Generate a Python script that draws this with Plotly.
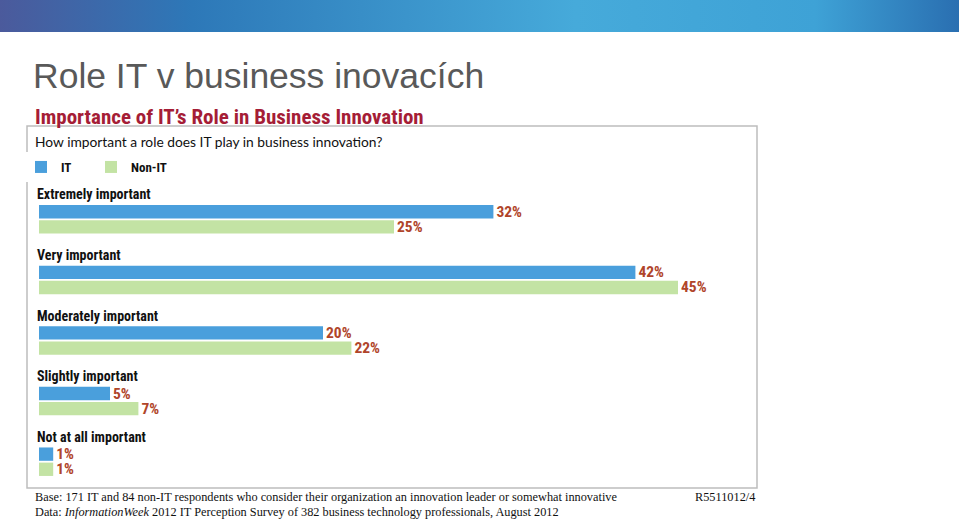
import base64
import plotly.graph_objects as go

categories = ["Extremely important", "Very important", "Moderately important",
              "Slightly important", "Not at all important"]
it_values = [32, 42, 20, 5, 1]
nonit_values = [25, 45, 22, 7, 1]
series_names = ["IT", "Non-IT"]

W_FIG, H_FIG = 959, 520
ML, MR, MT, MB = 39, 210, 189, 28
PW, PH = W_FIG - ML - MR, H_FIG - MT - MB


def px(x):
    return (x - ML) / PW


def py(y):
    return 1 - (y - MT) / PH


COND = "Roboto Condensed, Liberation Sans Narrow, Roboto, sans-serif"
LABEL_COLOR = "#b0452a"
IT_COLOR = "#4a9fdc"
NONIT_COLOR = "#c3e3a4"

fig = go.Figure()
for name, vals, col, lg in [(series_names[0], it_values, IT_COLOR, "legend"),
                            (series_names[1], nonit_values, NONIT_COLOR, "legend2")]:
    fig.add_trace(go.Bar(
        y=categories, x=vals, orientation="h", name=name, legend=lg,
        marker=dict(color=col, line=dict(width=0)),
        text=[f"{v}%" for v in vals], textposition="outside", constraintext="none",
        textfont=dict(family=COND, size=15.5, color=LABEL_COLOR, weight="bold"),
        cliponaxis=False,
    ))

annotations = []
for c in categories:
    annotations.append(dict(
        x=0, xref="paper", y=c, yref="y", yshift=25, xshift=-4,
        text=c, showarrow=False, xanchor="left", yanchor="middle",
        font=dict(family=COND, size=14, color="#111111", weight="bold"),
    ))

annotations += [
    dict(x=px(31), y=py(76), xref="paper", yref="paper", xanchor="left", yanchor="middle",
         text="Role IT v business inovacích", showarrow=False,
         font=dict(family="Liberation Sans, Arial, sans-serif", size=35.5, color="#595959")),
    dict(x=px(33), y=py(117), xref="paper", yref="paper", xanchor="left", yanchor="middle",
         text="Importance of IT’s Role in Business Innovation", showarrow=False,
         font=dict(family=COND, size=21, color="#a51d36", weight="bold")),
    dict(x=px(33), y=py(141), xref="paper", yref="paper", xanchor="left", yanchor="middle",
         text="How important a role does IT play in business innovation?", showarrow=False,
         font=dict(family="Lato, sans-serif", size=13.8, color="#111111")),
    dict(x=px(33), y=py(497), xref="paper", yref="paper", xanchor="left", yanchor="middle",
         text="Base: 171 IT and 84 non-IT respondents who consider their organization an innovation leader or somewhat innovative",
         showarrow=False,
         font=dict(family="Liberation Serif, serif", size=12.3, color="#111111")),
    dict(x=px(33), y=py(512), xref="paper", yref="paper", xanchor="left", yanchor="middle",
         text="Data: <i>InformationWeek</i> 2012 IT Perception Survey of 382 business technology professionals, August 2012",
         showarrow=False,
         font=dict(family="Liberation Serif, serif", size=12.3, color="#111111")),
    dict(x=px(757), y=py(497), xref="paper", yref="paper", xanchor="right", yanchor="middle",
         text="R5511012/4", showarrow=False,
         font=dict(family="Liberation Serif, serif", size=12.3, color="#111111")),
]

svg = ('<svg xmlns="http://www.w3.org/2000/svg" width="959" height="32" preserveAspectRatio="none">'
       '<defs><linearGradient id="g" x1="0" y1="0" x2="1" y2="0">'
       '<stop offset="0" stop-color="#4b5a9c"/><stop offset="0.2" stop-color="#2d78b8"/>'
       '<stop offset="0.6" stop-color="#46aada"/><stop offset="0.85" stop-color="#3ea2d6"/>'
       '<stop offset="1" stop-color="#2a6fb1"/></linearGradient></defs>'
       '<rect width="959" height="32" fill="url(#g)"/></svg>')
src = "data:image/svg+xml;base64," + base64.b64encode(svg.encode()).decode()

legend_font = dict(family=COND, size=13, color="#111111", weight="bold")
fig.update_layout(
    width=W_FIG, height=H_FIG,
    margin=dict(l=ML, r=MR, t=MT, b=MB),
    paper_bgcolor="white", plot_bgcolor="white",
    barmode="group", bargap=0.5, bargroupgap=0.12,
    showlegend=True,
    legend=dict(orientation="h", x=px(21), y=py(152), xanchor="left", yanchor="top",
                font=legend_font, itemwidth=30),
    legend2=dict(orientation="h", x=px(91), y=py(152), xanchor="left", yanchor="top",
                 font=legend_font, itemwidth=30),
    xaxis=dict(range=[0, 50], visible=False, fixedrange=True),
    yaxis=dict(categoryorder="array", categoryarray=categories, range=[4.5, -0.5],
               visible=False, fixedrange=True),
    annotations=annotations,
    shapes=[dict(type="rect", xref="paper", yref="paper", x0=px(27), x1=px(757),
                 y0=py(488), y1=py(126), line=dict(color="#bdbdbd", width=1.5),
                 fillcolor="rgba(0,0,0,0)", layer="below")],
    images=[dict(source=src, xref="paper", yref="paper", x=px(0), y=py(0),
                 sizex=px(959) - px(0), sizey=py(0) - py(32), sizing="stretch",
                 xanchor="left", yanchor="top", layer="below")],
    font=dict(family=COND),
)

fig.write_html("out.html", config={"displayModeBar": False},
               post_script="document.body.style.margin='0';document.body.style.overflow='hidden';")
